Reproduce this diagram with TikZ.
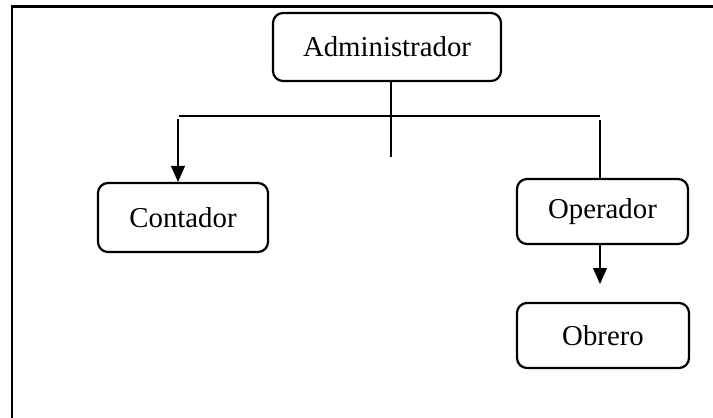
\documentclass[tikz,border=0pt]{standalone}
\usepackage{fontspec}
\setmainfont{Liberation Serif}
\usetikzlibrary{arrows.meta}
\tikzset{
  role/.style={draw, line width=1.1pt, rounded corners=5pt, inner sep=0pt,
    font=\fontsize{14.4}{17}\selectfont},
  link/.style={line width=0.55pt},
  arr/.style={link, -{Triangle[width=7pt,length=8pt]}},
  frame/.style={line width=1.2pt, line join=miter}
}
\begin{document}
\begin{tikzpicture}[x=0.5pt, y=-0.5pt]
  \useasboundingbox (0,0) rectangle (713,418);
  % page frame (top and left edges)
  \draw[frame] (12,418) -- (12,6.5) -- (713,6.5);

  % roles
  \node[role, minimum width=114pt, minimum height=34pt]   (admin)    at (387,47)    {Administrador};
  \node[role, minimum width=85pt,  minimum height=34.5pt] (contador) at (183,217.5) {Contador};
  \node[role, minimum width=85.5pt,minimum height=32.5pt] (operador) at (602.5,211.5) {Operador};
  \node[role, minimum width=86pt,  minimum height=32.5pt] (obrero)   at (603,335.5) {Obrero};

  % connector points
  \coordinate (trunkEnd) at (391,157);
  \coordinate (busL) at (179,116);
  \coordinate (busR) at (600,116);
  \coordinate (dropL) at (178,119);
  \coordinate (dropR) at (600,120);
  \coordinate (obreroTip) at (600,284);

  % connectors
  \draw[link] (admin.south -| trunkEnd) -- (trunkEnd);
  \draw[link] (busL) -- (busR);
  \draw[arr] (dropL) -- (contador.north -| dropL);
  \draw[link] (dropR) -- (operador.north -| dropR);
  \draw[arr] (operador.south -| obreroTip) -- (obreroTip);
\end{tikzpicture}
\end{document}
